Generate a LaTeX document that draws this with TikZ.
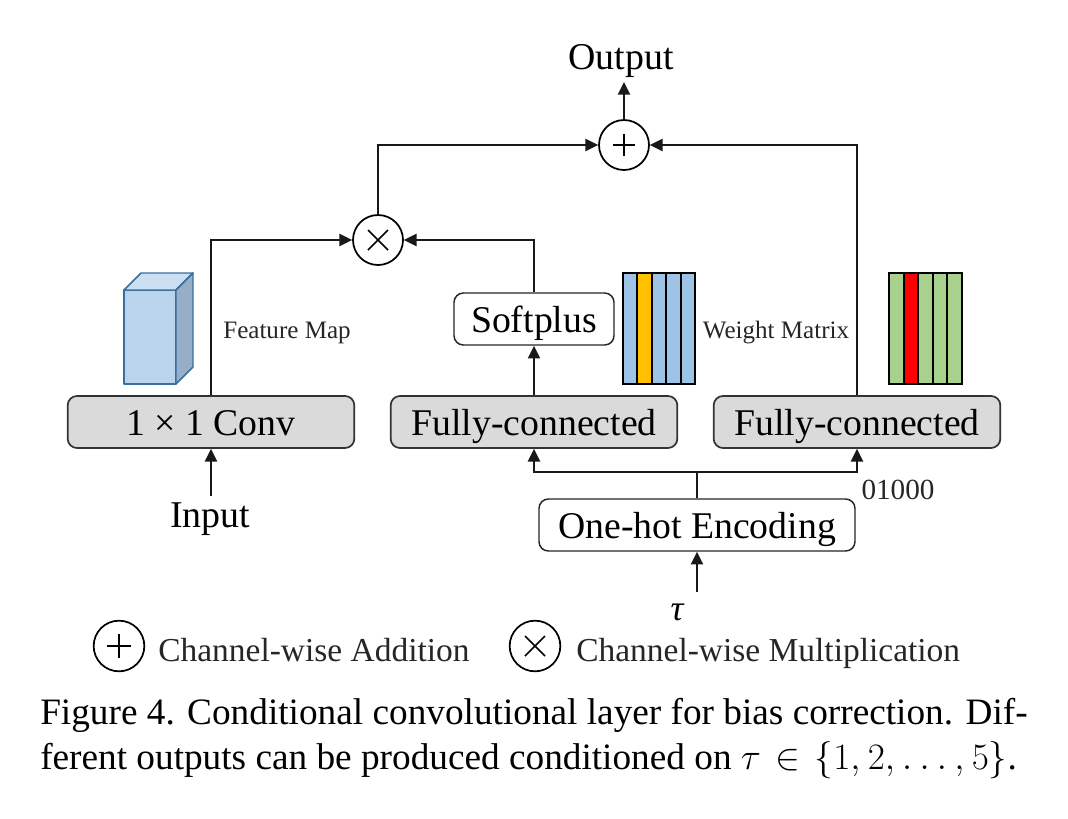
\RequirePackage{fix-cm}
\documentclass[tikz,border=0pt]{standalone}
\usepackage{fontspec}
\setmainfont{Liberation Serif}
\usetikzlibrary{arrows.meta,calc}
\definecolor{boxgray}{HTML}{DADADA}
\definecolor{cubeblue}{HTML}{BAD4EC}
\definecolor{cubetop}{HTML}{CCDFF1}
\definecolor{cubeside}{HTML}{97AFC6}
\definecolor{cubeedge}{HTML}{3A6E9E}
\definecolor{matblue}{HTML}{9DC3E6}
\definecolor{matgold}{HTML}{FFC000}
\definecolor{matgreen}{HTML}{A9D18E}
\tikzset{
  x=0.75pt,y=-0.75pt,
  conn/.style={draw=black!90,line width=1.5pt},
  arr/.style={conn,-{Triangle[length=9.5pt,width=9pt]}},
  grayblock/.style={draw=black!80,line width=1.3pt,rounded corners=7pt,fill=boxgray,minimum height=39pt,inner sep=0pt,text height=20pt,text depth=0.5pt,font=\fontsize{28.3}{32}\selectfont},
  whiteblock/.style={draw=black!85,line width=1.1pt,rounded corners=7pt,fill=white,minimum height=39pt,inner sep=0pt,text height=20pt,text depth=0.5pt,font=\fontsize{28.3}{32}\selectfont},
  op/.style={circle,draw=black,line width=1.3pt,fill=white,minimum size=37.5pt,inner sep=0pt},
  big/.style={inner sep=0pt,anchor=base,font=\fontsize{28.4}{32}\selectfont},
  small/.style={inner sep=0pt,anchor=base,text=black!85,font=\fontsize{18.8}{22}\selectfont},
  legend/.style={inner sep=0pt,anchor=base west,text=black!85,font=\fontsize{25.1}{30}\selectfont},
  caption/.style={inner sep=0pt,anchor=base west,font=\fontsize{27.95}{32}\selectfont},
  cubeline/.style={draw=cubeedge,line width=1.1pt,line join=round},
  matline/.style={draw=black,line width=1.4pt},
}
\begin{document}
\begin{tikzpicture}
\useasboundingbox (0,0) rectangle (1068,818);
% operator nodes
\node[op] (add) at (624,145) {};
\node[op] (mul) at (378,240) {};
\draw[line width=1.1pt] (add.center) ++(-11,0) -- ++(22,0) (add.center) ++(0,-11) -- ++(0,22);
\draw[line width=1.1pt] (mul.center) ++(-10,-10) -- ++(20,20) (mul.center) ++(-10,10) -- ++(20,-20);
% blocks
\node[grayblock,minimum width=215pt] (conv) at (211,422) {1 × 1 Conv};
\node[grayblock,minimum width=215pt] (fc1) at (534,422) {Fully-connected};
\node[grayblock,minimum width=215pt] (fc2) at (857,422) {Fully-connected};
\node[whiteblock,minimum width=120pt] (soft) at (534,319) {Softplus};
\node[whiteblock,minimum width=237pt] (hot) at (697,525) {One-hot Encoding};
% labels
\node[big] (output) at (621,69) {Output};
\node[big] (input) at (210,527) {Input};
\node[big,font=\fontsize{27}{30}\selectfont\itshape] (tau) at (677,620) {τ};
\node[small] (fm) at (287,338) {Feature Map};
\node[small] (wm) at (776,338) {Weight Matrix};
\node[inner sep=0pt,anchor=base,text=black!85,font=\fontsize{21.9}{24}\selectfont] (code) at (898,499) {01000};
% connectors
\coordinate (outtip) at (624,82);
\draw[arr] (add.north) -- (outtip);
\draw[arr] (mul.north) |- (add.west);
\draw[arr] (fc2.north) |- (add.east);
\draw[arr] (conv.north) |- (mul.west);
\draw[arr] (soft.north) |- (mul.east);
\draw[arr] (fc1.north) -- (soft.south);
\coordinate (inbot) at (211,496);
\draw[arr] (inbot) -- (conv.south);
\coordinate (taubot) at (697,592);
\draw[arr] (taubot) -- (hot.south);
\coordinate (split) at (697,472);
\draw[conn] (hot.north) -- (split);
\draw[arr] (split) -| (fc1.south);
\draw[arr] (split) -| (fc2.south);
% cube
\draw[cubeline,fill=cubeblue] (124,290) rectangle (176,384);
\draw[cubeline,fill=cubetop] (124,290) -- (141,273) -- (193,273) -- (176,290) -- cycle;
\draw[cubeline,fill=cubeside] (176,290) -- (193,273) -- (193,367) -- (176,384) -- cycle;
% blue/gold matrix
\foreach \i/\c in {0/matblue,1/matgold,2/matblue,3/matblue,4/matblue}
  \draw[matline,fill=\c] ({623+\i*14.4},273) rectangle ({623+(\i+1)*14.4},384);
% green/red matrix
\foreach \i/\c in {0/matgreen,1/red,2/matgreen,3/matgreen,4/matgreen}
  \draw[matline,fill=\c] ({889+\i*14.6},273) rectangle ({889+(\i+1)*14.6},384);
% legend
\node[op,minimum size=38pt] (ladd) at (119,646) {};
\draw[line width=1.1pt] (ladd.center) ++(-12,0) -- ++(24,0) (ladd.center) ++(0,-12) -- ++(0,24);
\node[legend] (ltadd) at (158,661) {Channel-wise Addition};
\node[op,minimum size=38pt] (lmul) at (535,646) {};
\draw[line width=1.1pt] (lmul.center) ++(-10,-10) -- ++(20,20) (lmul.center) ++(-10,10) -- ++(20,-20);
\node[legend] (ltmul) at (576,661) {Channel-wise Multiplication};
% caption
\node[caption] (c1) at (40,724) {Figure 4. Conditional convolutional layer for bias correction. Dif-};
\node[caption] (c2) at (40,769) {ferent outputs can be produced conditioned on {\thickmuskip=7mu \thinmuskip=3.5mu $\tau\in\{1,2,\ldots,5\}$}.};
\end{tikzpicture}
\end{document}
